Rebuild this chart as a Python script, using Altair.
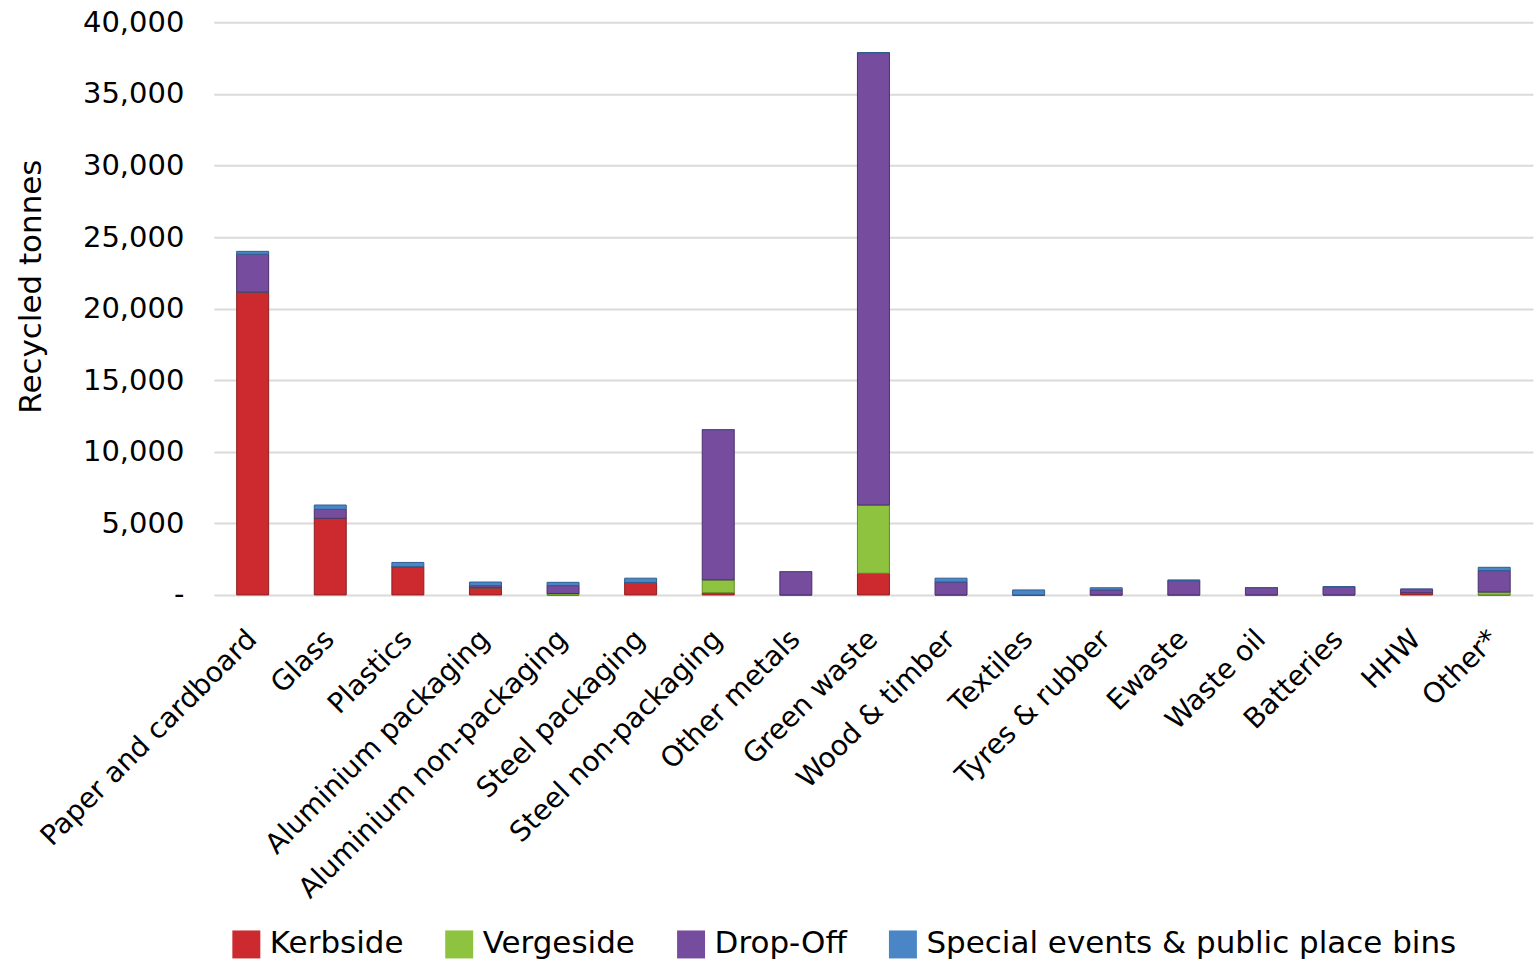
import altair as alt
import pandas as pd

categories = ["Paper and cardboard", "Glass", "Plastics", "Aluminium packaging",
              "Aluminium non-packaging", "Steel packaging", "Steel non-packaging",
              "Other metals", "Green waste", "Wood & timber", "Textiles",
              "Tyres & rubber", "Ewaste", "Waste oil", "Batteries", "HHW", "Other*"]
series = ["Kerbside", "Vergeside", "Drop-Off", "Special events & public place bins"]
kerbside = [21150, 5350, 1970, 500, 0, 870, 150, 0, 1510, 0, 0, 0, 0, 0, 0, 150, 0]
vergeside = [0, 0, 0, 0, 100, 0, 900, 0, 4770, 0, 0, 0, 0, 0, 0, 0, 200]
dropoff = [2650, 630, 0, 150, 550, 0, 10500, 1630, 31600, 900, 0, 350, 1000, 510, 580, 250, 1500]
special = [200, 300, 300, 250, 230, 300, 0, 0, 0, 270, 350, 150, 50, 0, 0, 0, 230]
colors = ["#CC2A2F", "#8DC33F", "#764D9E", "#4A86C5"]
strokes = ["#8E1E22", "#5E8A26", "#4A2E6A", "#2F5F91"]

rows = []
for si, (name, vals) in enumerate(zip(series, [kerbside, vergeside, dropoff, special])):
    for c, v in zip(categories, vals):
        rows.append({"category": c, "series": name, "value": v, "idx": si})
df = pd.DataFrame(rows)

FONT = "DejaVu Sans"

chart = alt.Chart(df).mark_bar(size=32, strokeWidth=1).encode(
    x=alt.X("category:N", sort=categories, title=None,
            axis=alt.Axis(labelAngle=-45, labelAlign="right", labelBaseline="middle",
                          labelPadding=40, ticks=False, domain=False, grid=False,
                          labelLimit=1000, labelOverlap=False,
                          labelFontSize=28, labelFont=FONT, labelColor="#000000")),
    y=alt.Y("value:Q", stack="zero", title="Recycled tonnes",
            scale=alt.Scale(domain=[0, 40000]),
            axis=alt.Axis(values=list(range(0, 40001, 5000)),
                          labelExpr="datum.value == 0 ? '-' : format(datum.value, ',')",
                          labelFontSize=29, labelFont=FONT, labelColor="#000000",
                          labelPadding=30, ticks=False, domain=False,
                          gridColor="#DADADA", gridWidth=2,
                          titleFontSize=31, titleFont=FONT, titleFontWeight="normal",
                          titleColor="#000000", titlePadding=35, titleY=264)),
    color=alt.Color("series:N", sort=series,
                    scale=alt.Scale(domain=series, range=colors),
                    legend=alt.Legend(title=None, orient="none", direction="horizontal",
                                      legendX=17, legendY=907,
                                      symbolType="square", symbolSize=784,
                                      symbolStrokeWidth=0, symbolOpacity=1,
                                      labelFontSize=31, labelFont=FONT,
                                      labelColor="#000000", labelOffset=8,
                                      columnPadding=40, labelLimit=800)),
    stroke=alt.Stroke("series:N", scale=alt.Scale(domain=series, range=strokes),
                      legend=None),
    order=alt.Order("idx:Q", sort="ascending"),
).properties(
    width=1320, height=573,
    padding={"left": 15, "top": 8, "right": 6, "bottom": 0},
).configure_view(stroke=None)

chart.save("out.html", embed_options={"renderer": "svg", "actions": False})
